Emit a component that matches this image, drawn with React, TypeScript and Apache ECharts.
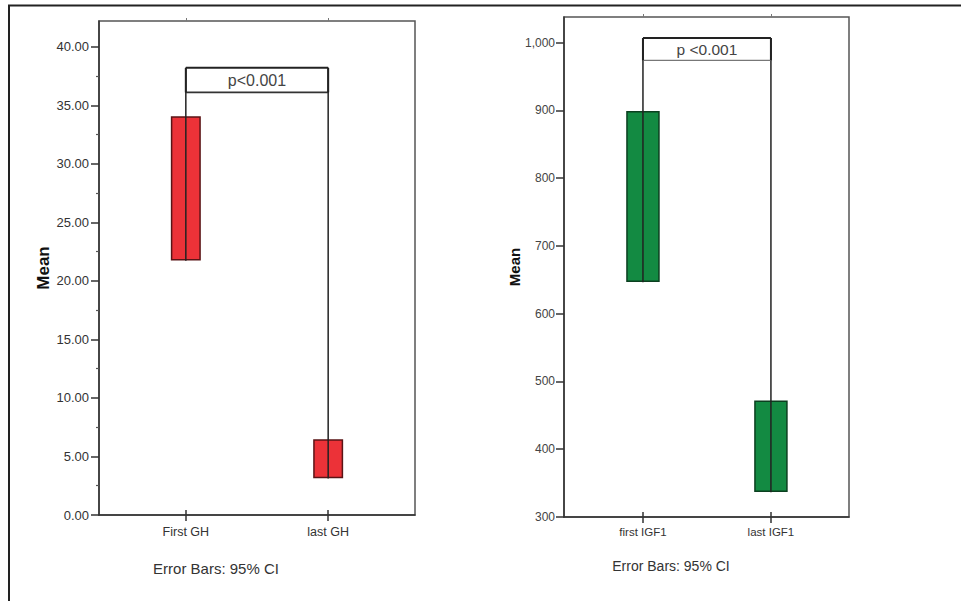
import React, { useEffect, useRef } from "react";
import * as echarts from "echarts";

const ghCategories = ["First GH", "last GH"];
const ghLower = [21.8, 3.2];
const ghUpper = [34.0, 6.4];
const ghBracket = [36.1, 38.2];
const ghTicks = [0, 5, 10, 15, 20, 25, 30, 35, 40];
const ghMinorTicks = [2.5, 7.5, 12.5, 17.5, 22.5, 27.5, 32.5, 37.5];
const ghP = "p<0.001";

const igfCategories = ["first IGF1", "last IGF1"];
const igfLower = [648, 338];
const igfUpper = [898, 471];
const igfBracket = [974, 1007];
const igfTicks = [300, 400, 500, 600, 700, 800, 900, 1000];
const igfP = "p <0.001";

const FONT = "'Liberation Sans', Arial, sans-serif";

function barSeries(grid: number, lower: number[], upper: number[], bracket: number[], fill: string, stroke: string, barW: number) {
  return {
    type: "custom",
    xAxisIndex: grid === 0 ? 0 : 3,
    yAxisIndex: grid === 0 ? 0 : 2,
    clip: false,
    data: lower.map((lo, i) => [i + 1, lo, upper[i], bracket[1]]),
    encode: { x: 0, y: [1, 2, 3] },
    renderItem: (params: any, api: any) => {
      const x = api.value(0);
      const pLo = api.coord([x, api.value(1)]);
      const pHi = api.coord([x, api.value(2)]);
      const pTop = api.coord([x, api.value(3)]);
      const w = api.size([barW, 0])[0];
      return {
        type: "group",
        children: [
          {
            type: "rect",
            shape: { x: pLo[0] - w / 2, y: pHi[1], width: w, height: pLo[1] - pHi[1] },
            style: { fill, stroke, lineWidth: 1.5 },
          },
          {
            type: "line",
            shape: { x1: pLo[0], y1: pTop[1], x2: pLo[0], y2: pLo[1] + 1 },
            style: { stroke: "#222", lineWidth: 1.5 },
          },
        ],
      };
    },
  };
}

function bracketSeries(grid: number, bracket: number[], label: string, fontSize: number, bottomColor: string, bottomWidth: number) {
  return {
    type: "custom",
    xAxisIndex: grid === 0 ? 0 : 3,
    yAxisIndex: grid === 0 ? 0 : 2,
    clip: false,
    data: [[1, 2, bracket[0], bracket[1]]],
    encode: { x: [0, 1], y: [2, 3] },
    renderItem: (params: any, api: any) => {
      const pA = api.coord([api.value(0), api.value(3)]);
      const pB = api.coord([api.value(1), api.value(2)]);
      return {
        type: "group",
        children: [
          {
            type: "line",
            shape: { x1: pA[0], y1: pB[1], x2: pB[0], y2: pB[1] },
            style: { stroke: bottomColor, lineWidth: bottomWidth },
          },
          {
            type: "line",
            shape: { x1: pA[0], y1: pA[1], x2: pB[0], y2: pA[1] },
            style: { stroke: "#222", lineWidth: 2 },
          },
          {
            type: "line",
            shape: { x1: pA[0], y1: pA[1], x2: pA[0], y2: pB[1] },
            style: { stroke: "#222", lineWidth: 2 },
          },
          {
            type: "line",
            shape: { x1: pB[0], y1: pA[1], x2: pB[0], y2: pB[1] },
            style: { stroke: "#222", lineWidth: 2 },
          },
          {
            type: "text",
            style: {
              x: (pA[0] + pB[0]) / 2,
              y: (pA[1] + pB[1]) / 2,
              text: label,
              align: "center",
              verticalAlign: "middle",
              fill: "#444",
              font: `${fontSize}px ${FONT}`,
            },
          },
        ],
      };
    },
  };
}

function xAxes(grid: number, min: number, max: number, cats: string[], fontSize: number, margin: number) {
  return [
    {
      type: "value", gridIndex: grid, min, max, position: "bottom",
      axisLine: { show: true, lineStyle: { color: "#333", width: 1.5 } },
      axisTick: { show: true, customValues: [1, 2], length: 6, lineStyle: { color: "#333", width: 1.5 } },
      axisLabel: {
        show: true, customValues: [1, 2], margin, color: "#333", fontSize, fontFamily: FONT,
        formatter: (v: number) => cats[Math.round(v) - 1] ?? "",
      },
      splitLine: { show: false },
    },
    {
      type: "value", gridIndex: grid, min, max, position: "bottom", offset: 0,
      axisLine: { show: false },
      axisTick: { show: true, inside: true, customValues: [1, 2], length: 5, lineStyle: { color: "#333", width: 1.5 } },
      axisLabel: { show: false },
      splitLine: { show: false },
    },
    {
      type: "value", gridIndex: grid, min, max, position: "top",
      axisLine: { show: false },
      axisTick: { show: true, customValues: [1, 2], length: 3, lineStyle: { color: "#777" } },
      axisLabel: { show: false },
      splitLine: { show: false },
    },
  ];
}

export default function App() {
  const ref = useRef<HTMLDivElement>(null);
  useEffect(() => {
    document.body.style.margin = "0";
    const chart = echarts.init(ref.current!, undefined, { renderer: "svg" });
    const axisLine = { show: true, lineStyle: { color: "#333", width: 1.5 } };
    const option: any = {
      animation: false,
      backgroundColor: "#fff",
      grid: [
        { left: 99, top: 21, width: 316, height: 494, show: true, borderColor: "#555", borderWidth: 1.5 },
        { left: 564, top: 17, width: 285, height: 500, show: true, borderColor: "#555", borderWidth: 1.5 },
      ],
      xAxis: [
        ...xAxes(0, 0.39, 2.61, ghCategories, 12.5, 10),
        ...xAxes(1, 0.383, 2.61, igfCategories, 11.5, 9),
      ],
      yAxis: [
        {
          type: "value", gridIndex: 0, min: 0, max: 42.2, position: "left",
          axisLine,
          axisTick: { show: true, customValues: ghTicks, length: 8, lineStyle: { color: "#333", width: 1.5 } },
          axisLabel: {
            show: true, customValues: ghTicks, margin: 10, color: "#333", fontSize: 13, fontFamily: FONT,
            formatter: (v: number) => v.toFixed(2),
          },
          splitLine: { show: false },
        },
        {
          type: "value", gridIndex: 0, min: 0, max: 42.2, position: "left", offset: 0,
          axisLine: { show: false },
          axisTick: { show: true, customValues: ghMinorTicks, length: 3, lineStyle: { color: "#555", width: 1.2 } },
          axisLabel: { show: false },
          splitLine: { show: false },
        },
        {
          type: "value", gridIndex: 1, min: 300, max: 1038, position: "left",
          axisLine,
          axisTick: { show: true, customValues: igfTicks, length: 8, lineStyle: { color: "#333", width: 1.5 } },
          axisLabel: {
            show: true, customValues: igfTicks, margin: 9, color: "#444", fontSize: 12, fontFamily: FONT,
            formatter: (v: number) => v.toLocaleString("en-US"),
          },
          splitLine: { show: false },
        },
      ],
      series: [
        barSeries(0, ghLower, ghUpper, ghBracket, "#ec3238", "#5a1416", 0.2),
        bracketSeries(0, ghBracket, ghP, 16, "#333", 1.8),
        barSeries(1, igfLower, igfUpper, igfBracket, "#138a42", "#0b3f1f", 0.25),
        bracketSeries(1, igfBracket, igfP, 15.5, "#777", 1.2),
      ],
      graphic: [
        { type: "line", shape: { x1: 8, y1: 5.5, x2: 961, y2: 5.5 }, style: { stroke: "#222", lineWidth: 2 } },
        { type: "line", shape: { x1: 9, y1: 5, x2: 9, y2: 601 }, style: { stroke: "#222", lineWidth: 2 } },
        {
          type: "text", x: 43, y: 268, rotation: Math.PI / 2,
          style: { text: "Mean", align: "center", verticalAlign: "middle", fill: "#111", font: `bold 17px ${FONT}` },
        },
        {
          type: "text", x: 514, y: 267, rotation: Math.PI / 2,
          style: { text: "Mean", align: "center", verticalAlign: "middle", fill: "#111", font: `bold 15px ${FONT}` },
        },
        {
          type: "text", x: 216, y: 568,
          style: { text: "Error Bars: 95% CI", align: "center", verticalAlign: "middle", fill: "#333", font: `15px ${FONT}` },
        },
        {
          type: "text", x: 671, y: 566,
          style: { text: "Error Bars: 95% CI", align: "center", verticalAlign: "middle", fill: "#333", font: `14px ${FONT}` },
        },
      ],
    };
    chart.setOption(option);
    return () => chart.dispose();
  }, []);
  return <div ref={ref} style={{ width: 961, height: 601 }} />;
}
